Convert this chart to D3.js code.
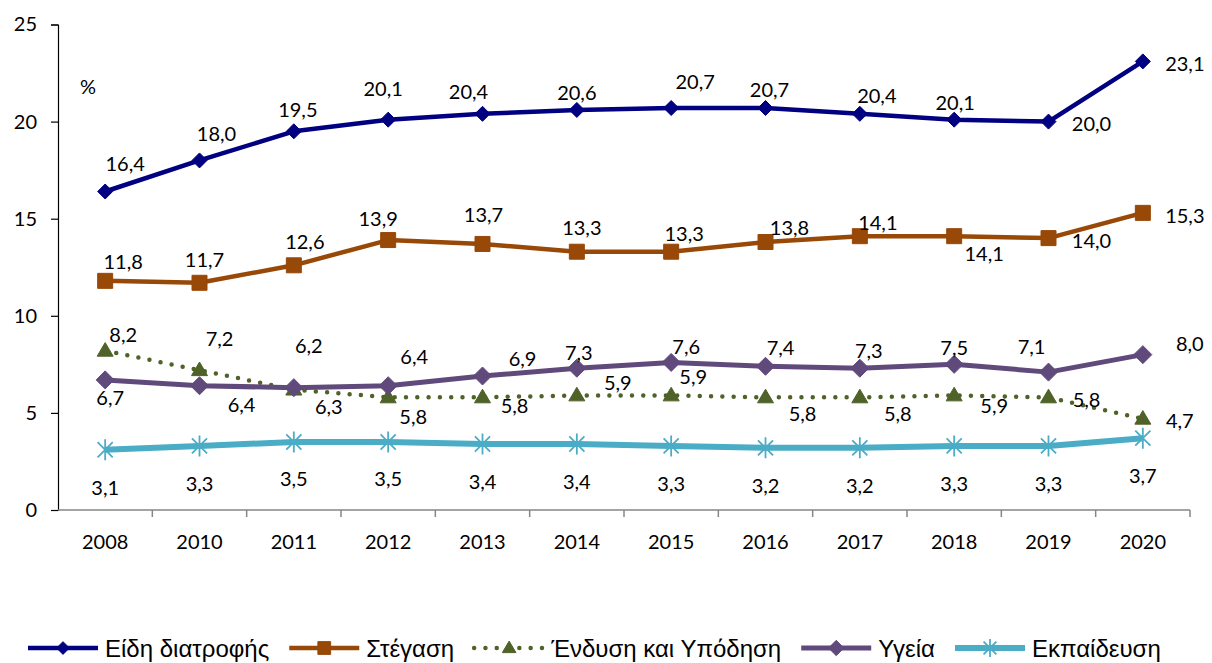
<!DOCTYPE html>
<html>
<head>
<meta charset="utf-8">
<script src="https://cdn.jsdelivr.net/npm/d3@7"></script>
<style>
  html, body { margin: 0; padding: 0; background: #fff; }
  svg { display: block; }
</style>
</head>
<body>
<svg id="chart" width="1212" height="663"></svg>
<script>
// ---------- data ----------
const years = ["2008","2010","2011","2012","2013","2014","2015","2016","2017","2018","2019","2020"];
const seriesNames = ["Είδη διατροφής","Στέγαση","Ένδυση και Υπόδηση","Υγεία","Εκπαίδευση"];
const food      = [16.4,18.0,19.5,20.1,20.4,20.6,20.7,20.7,20.4,20.1,20.0,23.1];
const housing   = [11.8,11.7,12.6,13.9,13.7,13.3,13.3,13.8,14.1,14.1,14.0,15.3];
const clothing  = [8.2,7.2,6.2,5.8,5.8,5.9,5.9,5.8,5.8,5.9,5.8,4.7];
const health    = [6.7,6.4,6.3,6.4,6.9,7.3,7.6,7.4,7.3,7.5,7.1,8.0];
const education = [3.1,3.3,3.5,3.5,3.4,3.4,3.3,3.2,3.2,3.3,3.3,3.7];
const yTicks = [0,5,10,15,20,25];
const unitLabel = "%";

// ---------- styling (label placement offsets, colours, markers) ----------
const labelOffsets = [
  [[20,-29],[17,-27],[4,-22],[-5,-32],[-14,-23],[0,-18],[24,-27],[4,-19],[17,-19],[1,-18],[43,1],[42,2]],
  [[18,-20],[5,-24],[11,-24],[-10,-22],[1,-30],[5,-25],[13,-19],[24,-15],[18,-14],[30,17],[43,2],[42,2]],
  [[18,-17],[20,-32],[15,-45],[25,19],[32,8],[41,-13],[22,-19],[37,16],[38,16],[40,10],[38,2],[37,1]],
  [[5,17],[42,18],[35,18],[26,-30],[40,-18],[2,-16],[15,-16],[15,-19],[9,-18],[0,-17],[-17,-26],[47,-12]],
  [[0,37],[0,37],[0,36],[0,36],[0,37],[0,37],[0,37],[0,37],[0,37],[0,37],[0,37],[0,37]]
];
const styles = [
  {color:"#000080", width:4.5, dash:null, marker:"diamond", size:7.5},
  {color:"#984807", width:4.5, dash:null, marker:"square", size:7.5},
  {color:"#4f6228", width:4.5, dash:"0 11.3", marker:"triangle", size:8},
  {color:"#604a7b", width:5, dash:null, marker:"diamond", size:9},
  {color:"#4bacc6", width:6, dash:null, marker:"asterisk", size:10.5}
];
const seriesValues = [food, housing, clothing, health, education];

// ---------- layout ----------
const svg = d3.select("#chart");
const x = d3.scaleBand().domain(years).range([58, 1190]);
const y = d3.scaleLinear().domain([0, 25]).range([510, 24.5]);
const fmt = v => d3.format(".1f")(v).replace(".", ",");
const FONT = "Lato, 'Open Sans', sans-serif";

// axes
const yAxis = d3.axisLeft(y).tickValues(yTicks).tickSize(7).tickPadding(14).tickFormat(d3.format("d"));
const gy = svg.append("g").attr("transform", "translate(58,0)").call(yAxis);
gy.select(".domain").attr("stroke", "#000").attr("stroke-width", 1.2);
gy.selectAll(".tick line").attr("stroke", "#000").attr("stroke-width", 1.2);
gy.selectAll(".tick text").attr("font-family", FONT).attr("font-size", 20).attr("fill", "#000");

const gx = svg.append("g").attr("transform", "translate(0,510)");
gx.append("line").attr("x1", 58).attr("x2", 1190).attr("y1", 0).attr("y2", 0)
  .attr("stroke", "#868686").attr("stroke-width", 1.5);
const boundaries = years.map(d => x(d)).concat([x(years[years.length-1]) + x.bandwidth()]);
gx.selectAll("line.tk").data(boundaries.slice(1)).join("line").attr("class","tk")
  .attr("x1", d => d).attr("x2", d => d).attr("y1", 0).attr("y2", 7)
  .attr("stroke", "#868686").attr("stroke-width", 1.5);
gx.selectAll("text").data(years).join("text")
  .attr("x", d => x(d) + x.bandwidth()/2).attr("y", 31)
  .attr("text-anchor", "middle").attr("dominant-baseline", "central")
  .attr("font-family", FONT).attr("font-size", 20).attr("fill", "#000")
  .text(d => d);

svg.append("text").attr("x", 88).attr("y", 86).attr("text-anchor", "middle")
  .attr("dominant-baseline", "central").attr("font-family", FONT).attr("font-size", 20)
  .text(unitLabel);

// marker path generator
function markerPath(type, r) {
  if (type === "diamond") return `M0,${-r}L${r},0L0,${r}L${-r},0Z`;
  if (type === "square") return `M${-r},${-r}H${r}V${r}H${-r}Z`;
  if (type === "triangle") { const h = r*1.7; return `M0,${-h*0.6}L${r},${h*0.4}L${-r},${h*0.4}Z`; }
  if (type === "asterisk") {
    const a = r*0.72;
    return `M0,${-r}V${r}M${-a},${-a}L${a},${a}M${-a},${a}L${a},${-a}`;
  }
}
function drawMarker(g, st, cx, cy, scale) {
  const r = st.size * (scale || 1);
  const p = g.append("path").attr("d", markerPath(st.marker, r))
    .attr("transform", `translate(${cx},${cy})`);
  if (st.marker === "asterisk") p.attr("fill", "none").attr("stroke", st.color).attr("stroke-width", 1.8);
  else p.attr("fill", st.color).attr("stroke", st.color).attr("stroke-width", 1);
}

const cx = d => x(d) + x.bandwidth()/2;
const line = d3.line().x((v, i) => cx(years[i])).y(v => y(v));

const plot = svg.append("g");
seriesValues.forEach((vals, si) => {
  const st = styles[si];
  const g = plot.append("g");
  const path = g.append("path").attr("d", line(vals)).attr("fill", "none")
    .attr("stroke", st.color).attr("stroke-width", st.width).attr("stroke-linejoin", "round");
  if (st.dash) path.attr("stroke-dasharray", st.dash).attr("stroke-linecap", "round");
  vals.forEach((v, i) => drawMarker(g, st, cx(years[i]), y(v)));
});

// data labels
const lab = svg.append("g");
seriesValues.forEach((vals, si) => {
  vals.forEach((v, i) => {
    const off = labelOffsets[si][i];
    lab.append("text").attr("x", cx(years[i]) + off[0]).attr("y", y(v) + off[1])
      .attr("text-anchor", "middle").attr("dominant-baseline", "central")
      .attr("font-family", FONT).attr("font-size", 20).attr("fill", "#000")
      .text(fmt(v));
  });
});

// legend
const leg = svg.append("g").attr("transform", "translate(0,648)");
let lx = 28;
seriesNames.forEach((name, si) => {
  const st = styles[si];
  const g = leg.append("g");
  const ln = g.append("line").attr("x1", lx).attr("x2", lx + 70).attr("y1", 0).attr("y2", 0)
    .attr("stroke", st.color).attr("stroke-width", st.width);
  if (st.dash) ln.attr("stroke-dasharray", st.dash).attr("stroke-linecap", "round");
  drawMarker(g, st, lx + 35, 0, 0.85);
  const t = g.append("text").attr("x", lx + 77).attr("y", 0).attr("dominant-baseline", "central")
    .attr("font-family", "'Liberation Sans', Arial, sans-serif").attr("font-size", 24).attr("fill", "#000")
    .text(name);
  lx = lx + 77 + t.node().getComputedTextLength() + 20;
});
</script>
</body>
</html>
